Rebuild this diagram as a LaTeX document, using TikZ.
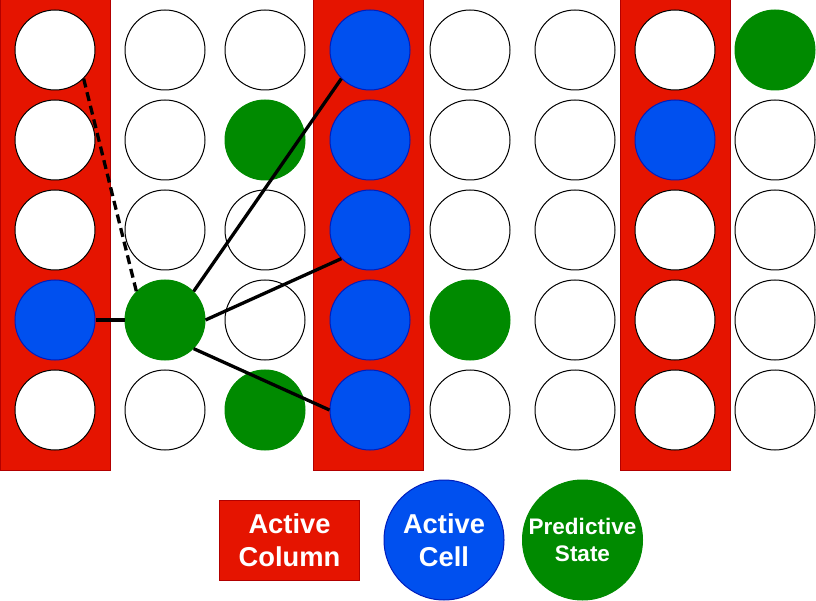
\documentclass[tikz,border=0pt]{standalone}
\usepackage{fontspec}
\setmainfont{Liberation Sans}
\definecolor{rot}{HTML}{E51400}
\definecolor{rotd}{HTML}{B20000}
\definecolor{blau}{HTML}{0050EF}
\definecolor{blaud}{HTML}{001DBC}
\definecolor{gruen}{HTML}{008A00}
\tikzset{
  zelle/.style={circle,draw=black,fill=white,line width=1pt,minimum size=80pt,inner sep=0pt},
  aktiv/.style={zelle,fill=blau,draw=blaud},
  vorher/.style={zelle,fill=gruen,draw=gruen},
  saeule/.style={fill=rot,draw=rotd,line width=1pt},
  verb/.style={black,line width=3.3pt},
  legtxt/.style={text=white,align=center,font=\fontsize{27.3}{33}\selectfont\bfseries},
}
\begin{document}
\begin{tikzpicture}[x=1pt,y=-1pt,
  % which cells are active / predictive
  z14/.style=aktiv, z24/.style=vorher, z32/.style=vorher, z35/.style=vorher,
  z41/.style=aktiv, z42/.style=aktiv, z43/.style=aktiv, z44/.style=aktiv, z45/.style=aktiv,
  z54/.style=vorher, z72/.style=aktiv, z81/.style=vorher]
  \useasboundingbox (0,0) rectangle (816,601);
  \path[saeule] (0,0) rectangle (110,470);
  \path[saeule] (313,0) rectangle (423,470);
  \path[saeule] (620,0) rectangle (730,470);
  \foreach \x [count=\i] in {55,165,265,370,470,575,675,775}
    \foreach \y [count=\j] in {50,140,230,320,410}
      \node[zelle,z\i\j/.try] (c\i\j) at (\x,\y) {};
  % connections
  \draw[verb] (c14.east) -- (c24.west);
  \draw[verb,dash pattern=on 9pt off 5pt] (c11.south east) -- (c24.north west);
  \draw[verb] (c24.north east) -- (c41.south west);
  \draw[verb] (c24.east) -- (c43.south west);
  \draw[verb] (c24.south east) -- (c45.west);
  % legend
  \node[saeule,legtxt,minimum width=140pt,minimum height=80pt] (lspalte) at (289.5,540) {Active\\Column};
  \node[aktiv,legtxt,minimum size=120pt] (lzelle) at (444,540) {Active\\Cell};
  \node[vorher,legtxt,minimum size=120pt,font=\fontsize{22.5}{27}\selectfont\bfseries] (lvorher) at (582.5,540) {Predictive\\State};
\end{tikzpicture}
\end{document}
